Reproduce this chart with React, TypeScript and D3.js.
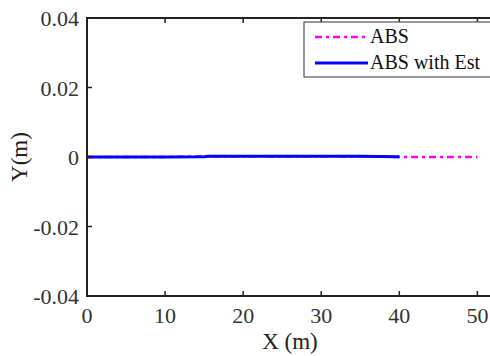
import React from "react";
import * as d3 from "d3";

const xTicks = [0, 10, 20, 30, 40, 50];
const yTicks = [-0.04, -0.02, 0, 0.02, 0.04];
const yTickLabels = ["-0.04", "-0.02", "0", "0.02", "0.04"];

const absX = [0, 5, 10, 15, 20, 25, 30, 35, 40, 45, 50];
const absY = [0, 0, 0, 0.0002, 0.0002, 0.0002, 0.0002, 0.0002, 0, 0, 0];

const estX = [0, 5, 10, 15, 15.5, 20, 25, 30, 35, 40];
const estY = [0, 0, 0, 0.00005, 0.0002, 0.0002, 0.0002, 0.0002, 0.0002, 0.0001];

const legendLabels = ["ABS", "ABS with Est"];

export default function App() {
  const W = 490, H = 356;
  const x = d3.scaleLinear().domain([0, 52]).range([87, 493]);
  const y = d3.scaleLinear().domain([-0.04, 0.04]).range([296, 18]);
  const line = d3.line<[number, number]>().x(d => x(d[0])).y(d => y(d[1]));
  const absPts = absX.map((v, i) => [v, absY[i]] as [number, number]);
  const estPts = estX.map((v, i) => [v, estY[i]] as [number, number]);
  const font = "Liberation Serif, DejaVu Serif, serif";
  const axisColor = "#222";
  return (
    <svg width={W} height={H} style={{ position: "absolute", left: 0, top: 0, background: "#fff", fontFamily: font }}>
      <defs>
        <clipPath id="plot">
          <rect x={87} y={18} width={406} height={278} />
        </clipPath>
      </defs>
      <g clipPath="url(#plot)">
        <path d={line(absPts) || ""} fill="none" stroke="#ff00ff" strokeWidth={2.5} strokeDasharray="7 4 3 4" />
        <path d={line(estPts) || ""} fill="none" stroke="#0000ff" strokeWidth={3} />
      </g>
      <rect x={87} y={18} width={406} height={278} fill="none" stroke={axisColor} strokeWidth={2} />
      {xTicks.map(t => (
        <g key={"x" + t}>
          <line x1={x(t)} x2={x(t)} y1={296} y2={291} stroke={axisColor} strokeWidth={1.5} />
          <line x1={x(t)} x2={x(t)} y1={18} y2={23} stroke={axisColor} strokeWidth={1.5} />
          <text x={x(t)} y={323} textAnchor="middle" fontSize={22} fill="#333" style={{ fontFamily: font }}>{t}</text>
        </g>
      ))}
      {yTicks.map((t, i) => (
        <g key={"y" + t}>
          <line x1={87} x2={92} y1={y(t)} y2={y(t)} stroke={axisColor} strokeWidth={1.5} />
          <text x={79} y={y(t) + 8} textAnchor="end" fontSize={22} fill="#333" style={{ fontFamily: font }}>{yTickLabels[i]}</text>
        </g>
      ))}
      <text x={290} y={349} textAnchor="middle" fontSize={23} fill="#222" style={{ fontFamily: font }}>X (m)</text>
      <text transform={`translate(27,157) rotate(-90)`} textAnchor="middle" fontSize={23} fill="#222" style={{ fontFamily: font }}>Y(m)</text>
      <rect x={304} y={22} width={200} height={55} fill="#fff" stroke="#555" strokeWidth={1.2} />
      <line x1={315} x2={368} y1={37} y2={37} stroke="#ff00ff" strokeWidth={2.5} strokeDasharray="7 4 3 4" />
      <text x={370} y={43} fontSize={20} fill="#111" style={{ fontFamily: font }}>{legendLabels[0]}</text>
      <line x1={315} x2={368} y1={63} y2={63} stroke="#0000ff" strokeWidth={3} />
      <text x={370} y={69} fontSize={20} fill="#111" style={{ fontFamily: font }}>{legendLabels[1]}</text>
    </svg>
  );
}
